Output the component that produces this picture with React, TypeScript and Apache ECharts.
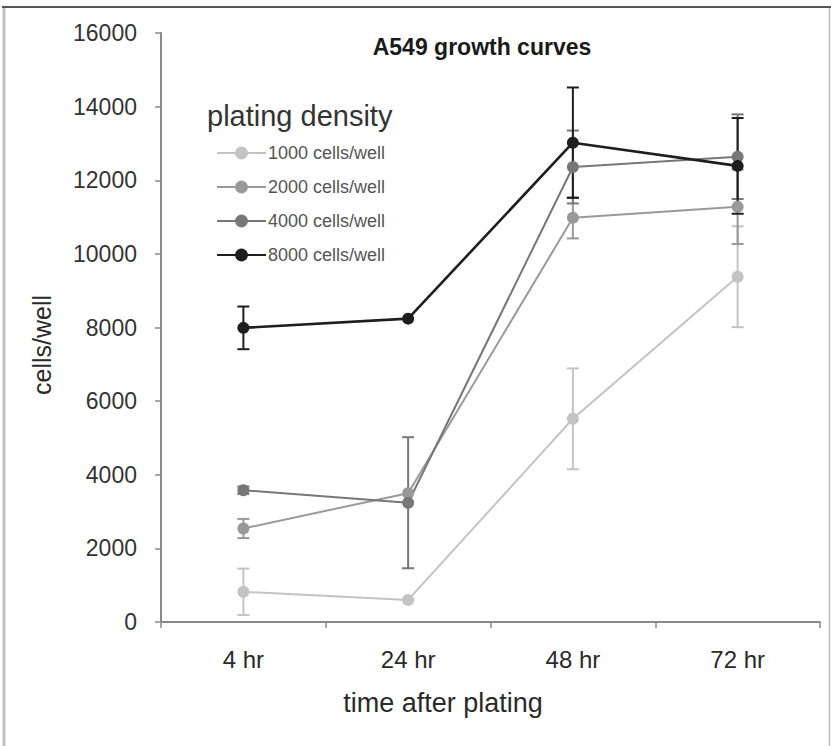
import React, { useEffect, useRef } from "react";
import * as echarts from "echarts";

const categories = ["4 hr", "24 hr", "48 hr", "72 hr"];
const seriesNames = ["1000 cells/well", "2000 cells/well", "4000 cells/well", "8000 cells/well"];
const d1000 = [820, 600, 5520, 9380];
const d2000 = [2540, 3500, 10980, 11280];
const d4000 = [3580, 3240, 12360, 12640];
const d8000 = [7990, 8240, 13020, 12390];
const e1000 = [630, 0, 1370, 1370];
const e2000 = [260, 0, 560, 1010];
const e4000 = [100, 1780, 990, 1150];
const e8000 = [580, 0, 1500, 1300];
const yTicks = [0, 16000, 2000];

const FONT = "'Liberation Sans', Arial, sans-serif";
const colors = ["#c3c3c3", "#999999", "#777777", "#1e1e1e"];
const lineWidths = [2, 2, 2, 2.6];

export default function App() {
  const ref = useRef<HTMLDivElement>(null);
  useEffect(() => {
    const chart = echarts.init(ref.current!, null, { renderer: "svg" });
    const values = [d1000, d2000, d4000, d8000];
    const errs = [e1000, e2000, e4000, e8000];
    const series: any[] = [];
    values.forEach((vals, si) => {
      const errData = vals
        .map((v, i) => [i, v - errs[si][i], v + errs[si][i], errs[si][i]])
        .filter((d) => d[3] > 0);
      series.push({
        type: "custom",
        name: seriesNames[si] + " error",
        coordinateSystem: "cartesian2d",
        silent: true,
        data: errData,
        encode: { x: 0, y: [1, 2] },
        renderItem: (params: any, api: any) => {
          const x = api.value(0);
          const lo = api.coord([x, api.value(1)]);
          const hi = api.coord([x, api.value(2)]);
          const hw = 6;
          const st = { stroke: colors[si], lineWidth: 2 };
          return {
            type: "group",
            children: [
              { type: "line", shape: { x1: lo[0], y1: lo[1], x2: hi[0], y2: hi[1] }, style: st },
              { type: "line", shape: { x1: lo[0] - hw, y1: lo[1], x2: lo[0] + hw, y2: lo[1] }, style: st },
              { type: "line", shape: { x1: hi[0] - hw, y1: hi[1], x2: hi[0] + hw, y2: hi[1] }, style: st },
            ],
          };
        },
      });
      series.push({
        type: "line",
        name: seriesNames[si],
        data: vals,
        symbol: "circle",
        symbolSize: 12,
        lineStyle: { color: colors[si], width: lineWidths[si] },
        itemStyle: { color: colors[si] },
      });
    });

    chart.setOption({
      animation: false,
      backgroundColor: "#ffffff",
      textStyle: { fontFamily: FONT },
      grid: { left: 161, right: 11, top: 33, bottom: 124 },
      legend: {
        data: seriesNames,
        orient: "vertical",
        left: 211,
        top: 139,
        itemWidth: 49,
        itemHeight: 16,
        itemGap: 16,
        textStyle: { fontFamily: FONT, fontSize: 18, color: "#555555", padding: [0, 0, 0, -3] },
      },
      xAxis: {
        type: "category",
        data: categories,
        axisLine: { lineStyle: { color: "#8a8a8a", width: 2 } },
        axisTick: { show: true, length: 6, lineStyle: { color: "#8a8a8a", width: 1.5 } },
        axisLabel: { fontFamily: FONT, fontSize: 24, color: "#2a2a2a", margin: 25 },
        splitLine: { show: false },
      },
      yAxis: {
        type: "value",
        min: yTicks[0],
        max: yTicks[1],
        interval: yTicks[2],
        axisLine: { show: true, lineStyle: { color: "#8a8a8a", width: 2 } },
        axisTick: { show: true, length: 6, lineStyle: { color: "#8a8a8a", width: 1.5 } },
        axisLabel: {
          fontFamily: FONT,
          fontSize: 23,
          color: "#333333",
          margin: 24,
          formatter: (v: number) => String(v),
        },
        splitLine: { show: false },
      },
      graphic: [
        { type: "line", shape: { x1: 2, y1: 7, x2: 831, y2: 7 }, style: { stroke: "#555555", lineWidth: 2 } },
        { type: "line", shape: { x1: 4, y1: 8, x2: 4, y2: 746 }, style: { stroke: "#c0c0c0", lineWidth: 3 } },
        { type: "line", shape: { x1: 829.5, y1: 8, x2: 829.5, y2: 746 }, style: { stroke: "#bbbbbb", lineWidth: 1.5 } },
        {
          type: "text",
          x: 482,
          y: 47,
          style: {
            text: "A549 growth curves",
            font: `bold 23px ${FONT}`,
            fill: "#1a1a1a",
            textAlign: "center",
            textVerticalAlign: "middle",
          },
        },
        {
          type: "text",
          x: 207,
          y: 116,
          style: {
            text: "plating density",
            font: `29px ${FONT}`,
            fill: "#333333",
            textAlign: "left",
            textVerticalAlign: "middle",
          },
        },
        {
          type: "text",
          x: 42,
          y: 345,
          rotation: Math.PI / 2,
          style: {
            text: "cells/well",
            font: `25px ${FONT}`,
            fill: "#2a2a2a",
            textAlign: "center",
            textVerticalAlign: "middle",
          },
        },
        {
          type: "text",
          x: 443,
          y: 703,
          style: {
            text: "time after plating",
            font: `27px ${FONT}`,
            fill: "#2a2a2a",
            textAlign: "center",
            textVerticalAlign: "middle",
          },
        },
      ],
      series,
    });
    return () => chart.dispose();
  }, []);
  return <div ref={ref} style={{ position: "absolute", left: 0, top: 0, width: 831, height: 746 }} />;
}
